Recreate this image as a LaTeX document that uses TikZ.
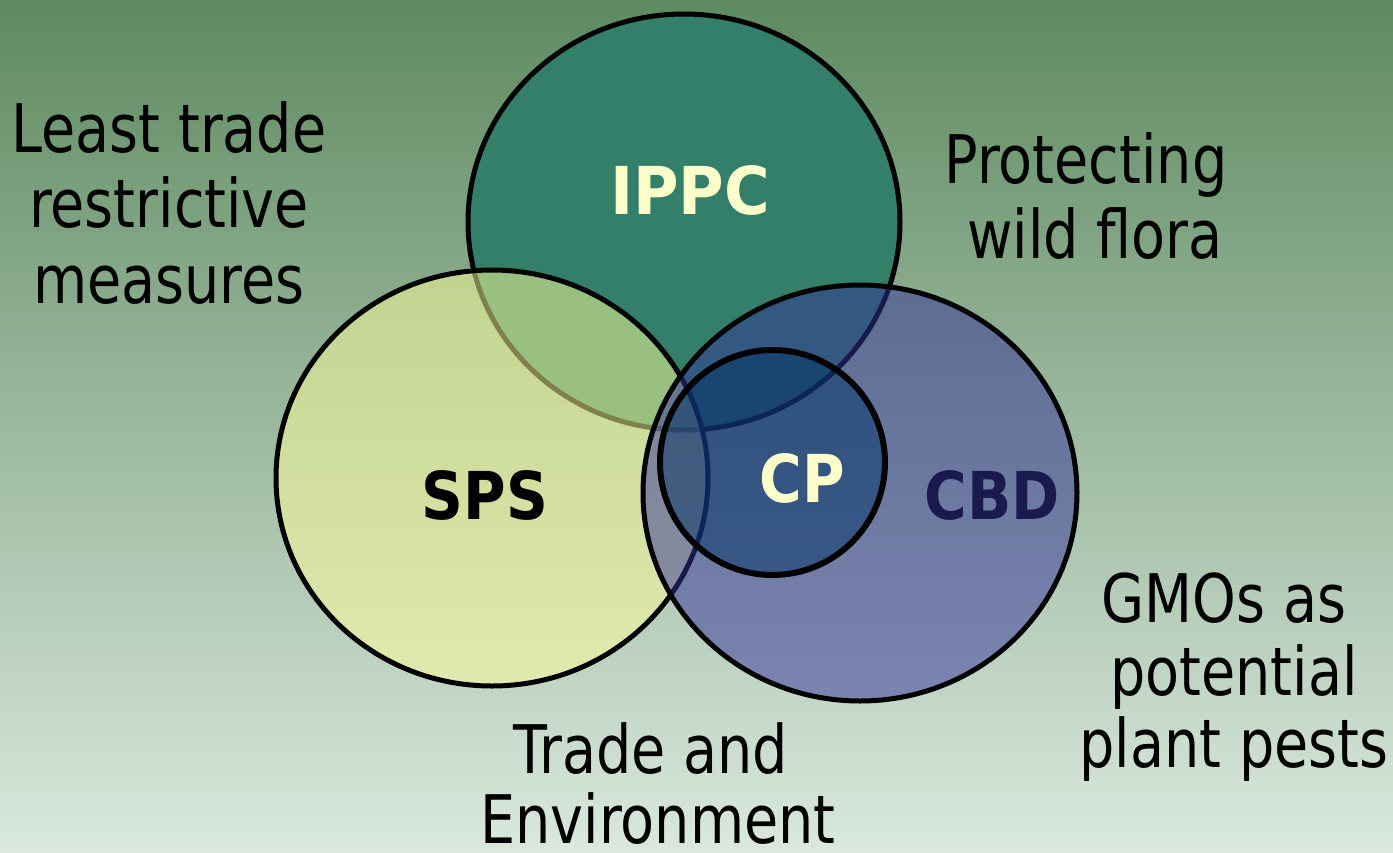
\documentclass[tikz,border=0pt]{standalone}
\usepackage{fontspec}
\setmainfont{DejaVu Sans}[FakeStretch=0.83]
\newfontfamily\vennlabelfont{DejaVu Sans}[FakeStretch=0.88]
\usetikzlibrary{shapes.geometric}
\definecolor{bgtop}{HTML}{5E8A60}
\definecolor{bgbot}{HTML}{DAE8DE}
\definecolor{ippcfill}{HTML}{337F69}
\definecolor{spsfill}{HTML}{FFFF99}
\definecolor{cbdfill}{HTML}{333399}
\definecolor{cpfill}{HTML}{003366}
\definecolor{lightlabel}{HTML}{FFFFCC}
\definecolor{cbdlabel}{HTML}{1A1A4E}
\tikzset{
  setcircle/.style={ellipse, draw=black, line width=5pt, inner sep=0pt, outer sep=0pt},
  sidetext/.style={anchor=base, inner sep=0pt, font=\fontsize{67}{76}\selectfont, text=black},
  biglabel/.style={anchor=base, inner sep=0pt, font=\vennlabelfont\fontsize{66}{76}\selectfont\bfseries}
}
\begin{document}
\begin{tikzpicture}[x=1pt,y=-1pt]
\useasboundingbox (0,0) rectangle (1393,852);
\shade[top color=bgtop, bottom color=bgbot] (0,0) rectangle (1393,852);
% circles
\node[setcircle, fill=ippcfill, minimum width=432pt, minimum height=416pt] (ippc) at (684,222) {};
\node[setcircle, fill=spsfill, fill opacity=0.5, draw opacity=1, minimum width=432pt, minimum height=416pt] (sps) at (492,478) {};
\node[setcircle, fill=cbdfill, fill opacity=0.5, draw opacity=1, minimum width=434pt, minimum height=416pt] (cbd) at (860,493) {};
\node[setcircle, line width=6pt, fill=cpfill, fill opacity=0.5, draw opacity=1, minimum width=225pt, minimum height=225pt] (cp) at (772.5,462.5) {};
% circle labels
\node[biglabel, text=lightlabel] (lippc) at (690,214) {\scalebox{1.07}[1]{IPPC}};
\node[biglabel, text=black] (lsps) at (485,519) {SPS};
\node[biglabel, text=lightlabel] (lcp) at (802,502) {CP};
\node[biglabel, text=cbdlabel] (lcbd) at (992,519) {CBD};
% side texts
\node[sidetext] (lt1) at (169,152) {Least trade};
\node[sidetext] (lt2) at (169,227) {restrictive};
\node[sidetext] (lt3) at (169,303) {measures};
\node[sidetext] (pw1) at (1086,183) {Protecting};
\node[sidetext] (pw2) at (1095,258) {wild flora};
\node[sidetext] (gm1) at (1224,622) {GMOs as};
\node[sidetext] (gm2) at (1234,695) {potential};
\node[sidetext] (gm3) at (1234,767) {plant pests};
\node[sidetext] (te1) at (651,773) {Trade and};
\node[sidetext] (te2) at (658,843) {Environment};
\end{tikzpicture}
\end{document}
